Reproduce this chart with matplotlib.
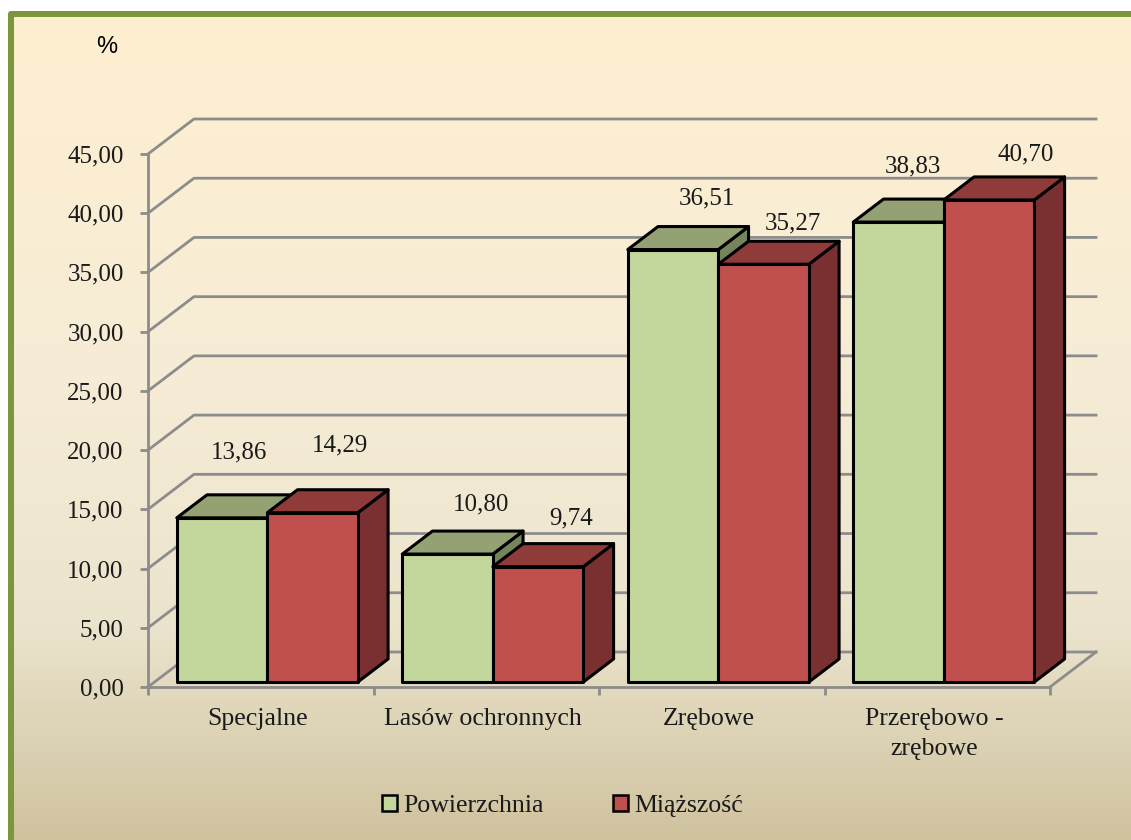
import numpy as np
import matplotlib
matplotlib.use("Agg")
import matplotlib.pyplot as plt
from matplotlib.patches import FancyBboxPatch, Patch, Polygon

plt.rcParams['font.family'] = ['Liberation Serif', 'DejaVu Serif']

# dane
categories = ["Specjalne", "Lasów ochronnych", "Zrębowe", "Przerębowo -\nzrębowe"]
powierzchnia = [13.86, 10.80, 36.51, 38.83]
miazszosc = [14.29, 9.74, 35.27, 40.70]
y_ticks = [0, 5, 10, 15, 20, 25, 30, 35, 40, 45]

# przesuniecia etykiet wartosci w pikselach
label_shift_p = [(17, 65), (33, 50), (34, 51), (14, 56)]
label_shift_m = [(27, 67), (33, 48), (29, 41), (37, 45)]

W, H = 1131, 840
fig = plt.figure(figsize=(W / 100, H / 100), dpi=100, facecolor="white")

# tlo z gradientem i zielona ramka
bg = fig.add_axes([0, 0, 1, 1], zorder=0)
bg.set_xlim(0, W)
bg.set_ylim(H, 0)
bg.axis("off")
bg.add_patch(FancyBboxPatch((8, 11), W + 20, H + 20, boxstyle="round,pad=0,rounding_size=3",
                            fc="#7D963E", ec="none"))
stops = [0, 0.45, 0.74, 1]
cols = np.array([[254, 239, 208], [246, 236, 214], [235, 228, 205], [207, 194, 158]]) / 255
t = np.linspace(0, 1, 800)
grad = np.stack([np.interp(t, stops, cols[:, i]) for i in range(3)], axis=1)[:, None, :]
bg.imshow(grad, extent=(13.5, W, H, 17), aspect="auto", zorder=2)
bg.set_xlim(0, W)
bg.set_ylim(H, 0)

# przednia plaszczyzna wykresu
ax = fig.add_axes([148 / W, (H - 687) / H, 902 / W, 533 / H], zorder=1)
ax.patch.set_alpha(0)
ax.set_xlim(0, 4)
ax.set_ylim(0, 45)

GRAY = "#8C8C8C"
DX = 46 / 225.5  # glebokosc w jednostkach osi
DY = 35 / 11.84


def proj(x, y, d):
    return x + d * DX, y + d * DY


# siatka na scianach
for v in y_ticks:
    ax.plot([0, DX, 4 + DX], [v, v + DY, v + DY], color=GRAY, lw=2, clip_on=False, zorder=1)
ax.plot([4, 4 + DX], [0, DY], color=GRAY, lw=2, clip_on=False, zorder=1)


def bar3d(x0, x1, val, front, top, side):
    d0, d1 = 5 / 35, 28 / 35
    a = proj(x0, 0, d0)
    b = proj(x1, 0, d0)
    c = proj(x1, val, d0)
    e = proj(x0, val, d0)
    f = proj(x0, val, d1)
    g = proj(x1, val, d1)
    h = proj(x1, 0, d1)
    for pts, col in [([b, h, g, c], side), ([e, c, g, f], top), ([a, b, c, e], front)]:
        ax.add_patch(Polygon(pts, closed=True, fc=col, ec="black", lw=2.2, joinstyle="round",
                             clip_on=False, zorder=3))


gap = 0.0985
mid = 0.5
for i in range(len(categories)):
    bar3d(i + gap, i + mid, powierzchnia[i], "#C3D69B", "#93A173", "#76845C")
    bar3d(i + mid, i + 1 - gap, miazszosc[i], "#C0504D", "#8F3B39", "#7A3030")
    for val, x_c, shift in [(powierzchnia[i], i + (gap + mid) / 2, label_shift_p[i]),
                            (miazszosc[i], i + (mid + 1 - gap) / 2, label_shift_m[i])]:
        xp, yp = proj(x_c, val, 5 / 35)
        ax.annotate(f"{val:.2f}".replace(".", ","), (xp, yp), xytext=shift, textcoords="offset pixels",
                    ha="center", va="center", fontsize=18, color="#1A1A1A", zorder=5,
                    annotation_clip=False)

# osie
for s in ["top", "right"]:
    ax.spines[s].set_visible(False)
for s in ["left", "bottom"]:
    ax.spines[s].set_color(GRAY)
    ax.spines[s].set_linewidth(2)
ax.set_yticks(y_ticks)
ax.set_yticklabels([f"{v:.2f}".replace(".", ",") for v in y_ticks], fontsize=18, color="#1A1A1A")
ax.set_xticks(range(5))
ax.set_xticklabels([])
ax.set_xticks([i + 0.485 for i in range(4)], minor=True)
ax.set_xticklabels(categories, minor=True, fontsize=18.6, color="#1A1A1A", linespacing=1.5)
ax.tick_params(axis="both", which="major", color=GRAY, width=2, length=5.5)
ax.tick_params(axis="y", pad=12)
ax.tick_params(axis="x", which="minor", length=0, pad=15)

fig.text(107 / W, 1 - 47 / H, "%", family=["Liberation Sans", "DejaVu Sans"], fontsize=17,
         color="black", ha="center", va="center", zorder=6)

handles = [Patch(fc="#C3D69B", ec="black", lw=1.8, label="Powierzchnia"),
           Patch(fc="#C0504D", ec="black", lw=1.8, label="Miąższość")]
fig.legend(handles=handles, loc="center", bbox_to_anchor=(562.5 / W, 1 - 806 / H), ncol=2, frameon=False,
           fontsize=18.6, handlelength=0.58, handleheight=0.58, handletextpad=0.23, columnspacing=2.7,
           labelcolor="#1A1A1A")

fig.savefig("out.png", dpi=100, facecolor="white")
